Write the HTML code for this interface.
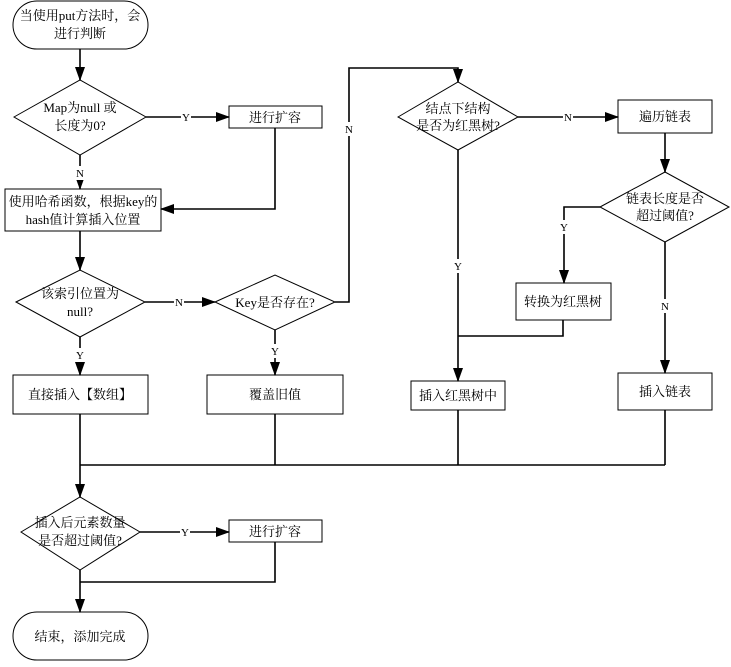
<!DOCTYPE html>
<html><head><meta charset="utf-8"><style>
body{margin:0;background:#fff}
svg text{font-family:"Liberation Serif","Noto Serif CJK SC",serif;font-size:13px;fill:#000;text-anchor:middle}
</style></head><body>
<svg width="731" height="662" viewBox="0 0 731 662" xmlns="http://www.w3.org/2000/svg">
<defs><marker id="a" markerWidth="14" markerHeight="10" refX="13" refY="5" orient="auto" markerUnits="userSpaceOnUse"><path d="M0,0 L14,5 L0,10 z" fill="#000"/></marker></defs>
<g fill="none" stroke="#000" stroke-width="1">
<rect x="13" y="1" width="135" height="48" rx="24"/>
<polygon points="14,117 80,80 146,117 80,155"/>
<rect x="229" y="106" width="93" height="22"/>
<rect x="5" y="189" width="156" height="42"/>
<polygon points="16,302 80,270 145,302 80,337"/>
<polygon points="215,302 275,275 335,302 275,330"/>
<polygon points="398,117 458,82 518,117 458,150"/>
<rect x="618" y="100" width="94" height="33"/>
<polygon points="600,207 665,172 729,207 665,242"/>
<rect x="516" y="283" width="95" height="37"/>
<rect x="411" y="381" width="94" height="29"/>
<rect x="618" y="373" width="94" height="37"/>
<rect x="207" y="375" width="136" height="39"/>
<rect x="13" y="375" width="135" height="39"/>
<polygon points="21,532 80,497 140,532 80,570"/>
<rect x="229" y="520" width="93" height="22"/>
<rect x="13" y="612" width="135" height="48" rx="24"/>
</g>
<g fill="none" stroke="#000" stroke-width="1.6">
<path d="M80,49 V80" marker-end="url(#a)"/>
<path d="M146,117 H229" marker-end="url(#a)"/>
<path d="M80,155 V189" marker-end="url(#a)"/>
<path d="M275,128 V209 H161" marker-end="url(#a)"/>
<path d="M80,231 V270" marker-end="url(#a)"/>
<path d="M145,302 H215" marker-end="url(#a)"/>
<path d="M335,302 H349 V68 H458 V82" marker-end="url(#a)"/>
<path d="M518,117 H618" marker-end="url(#a)"/>
<path d="M665,133 V172" marker-end="url(#a)"/>
<path d="M600,207 H564 V283" marker-end="url(#a)"/>
<path d="M563,320 V336 H458"/>
<path d="M458,150 V381" marker-end="url(#a)"/>
<path d="M665,242 V373" marker-end="url(#a)"/>
<path d="M275,330 V375" marker-end="url(#a)"/>
<path d="M80,337 V375" marker-end="url(#a)"/>
<path d="M80,414 V497" marker-end="url(#a)"/>
<path d="M275,414 V465 M458,410 V465 M665,410 V465 M80,465 H665"/>
<path d="M140,532 H229" marker-end="url(#a)"/>
<path d="M275,542 V582 H80"/>
<path d="M80,570 V612" marker-end="url(#a)"/>
</g>
<g fill="#fff">
<rect x="181" y="110" width="10" height="14"/><rect x="75" y="166" width="10" height="14"/>
<rect x="174" y="295" width="10" height="14"/><rect x="344" y="122" width="10" height="14"/>
<rect x="563" y="110" width="10" height="14"/><rect x="453" y="259" width="10" height="14"/>
<rect x="559" y="220" width="10" height="14"/><rect x="660" y="299" width="10" height="14"/>
<rect x="270" y="344" width="10" height="14"/><rect x="75" y="348" width="10" height="14"/>
<rect x="180" y="525" width="10" height="14"/>
</g>
<g>
<text x="186" y="121" style="font-size:11px">Y</text>
<text x="80" y="177" style="font-size:11px">N</text>
<text x="179" y="306" style="font-size:11px">N</text>
<text x="349" y="133" style="font-size:11px">N</text>
<text x="568" y="121" style="font-size:11px">N</text>
<text x="458" y="270" style="font-size:11px">Y</text>
<text x="564" y="231" style="font-size:11px">Y</text>
<text x="665" y="310" style="font-size:11px">N</text>
<text x="275" y="355" style="font-size:11px">Y</text>
<text x="80" y="359" style="font-size:11px">Y</text>
<text x="185" y="536" style="font-size:11px">Y</text>
</g>
<text x="80" y="20">当使用put方法时，会</text><text x="80" y="38">进行判断</text>
<text x="80" y="112">Map为null 或</text><text x="80" y="130">长度为0?</text>
<text x="275" y="122">进行扩容</text>
<text x="83" y="206">使用哈希函数，根据key的</text><text x="83" y="224">hash值计算插入位置</text>
<text x="80" y="298">该索引位置为</text><text x="80" y="316">null?</text>
<text x="275" y="307">Key是否存在?</text>
<text x="458" y="113">结点下结构</text><text x="458" y="130">是否为红黑树?</text>
<text x="665" y="121">遍历链表</text>
<text x="665" y="203">链表长度是否</text><text x="665" y="220">超过阈值?</text>
<text x="563" y="306">转换为红黑树</text>
<text x="458" y="400">插入红黑树中</text>
<text x="665" y="396">插入链表</text>
<text x="275" y="399">覆盖旧值</text>
<text x="80" y="399">直接插入【数组】</text>
<text x="80" y="527">插入后元素数量</text><text x="80" y="545">是否超过阈值?</text>
<text x="275" y="536">进行扩容</text>
<text x="80" y="641">结束，添加完成</text>
</svg>
</body></html>
